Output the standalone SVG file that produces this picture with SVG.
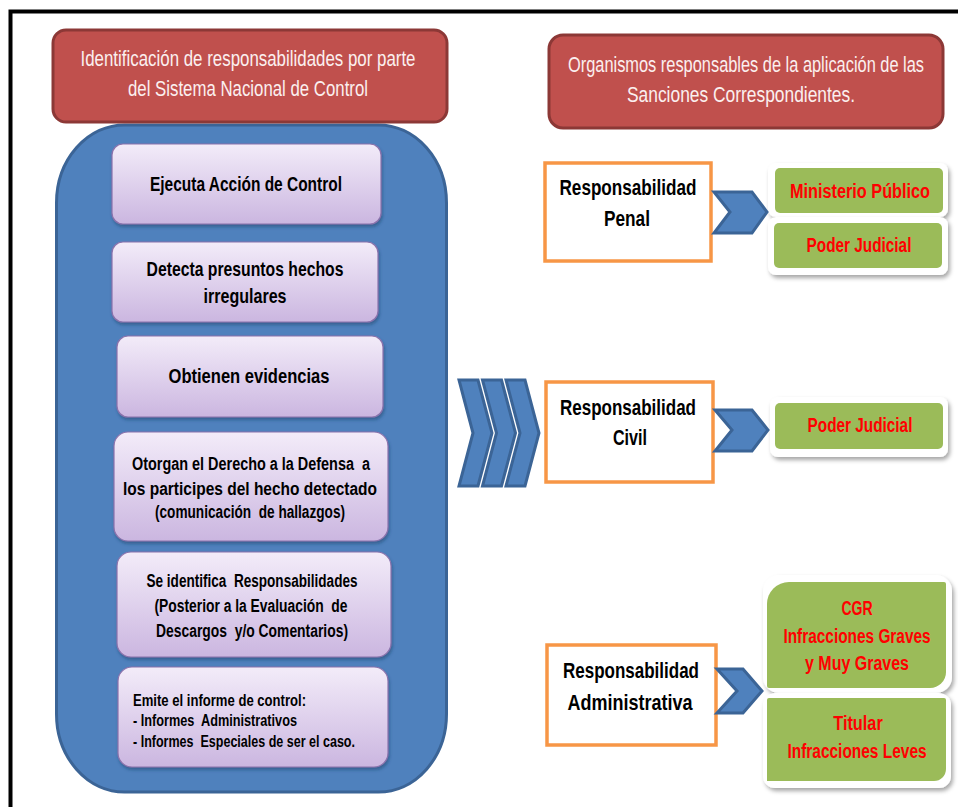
<svg xmlns="http://www.w3.org/2000/svg" width="958" height="807" viewBox="0 0 958 807">
  <defs>
    <linearGradient id="lilac" x1="0" y1="0" x2="0" y2="1">
      <stop offset="0" stop-color="#F3ECF9"/>
      <stop offset="1" stop-color="#CBB6E0"/>
    </linearGradient>
    <filter id="shadowSoft" x="-10%" y="-10%" width="125%" height="130%">
      <feDropShadow dx="1" dy="2.5" stdDeviation="1.5" flood-color="#1F3A5F" flood-opacity="0.45"/>
    </filter>
    <filter id="shadowFrame" x="-10%" y="-10%" width="125%" height="130%">
      <feDropShadow dx="2" dy="3" stdDeviation="2" flood-color="#000" flood-opacity="0.35"/>
    </filter>
    <style>
      text { font-family: "Liberation Sans", Arial, sans-serif; white-space: pre; }
      .hdrBox { fill: #C0504D; stroke: #8C3836; stroke-width: 3; }
      .hdrTxt { font-size: 22px; fill: #FBEFEF; text-anchor: middle; }
      .step { fill: url(#lilac); stroke: #8A72AC; stroke-width: 1.2; filter: url(#shadowSoft); }
      .stepTxt { font-weight: bold; fill: #000; text-anchor: middle; }
      .big { font-size: 21px; }
      .mid { font-size: 17.5px; }
      .small { font-size: 16px; text-anchor: start; }
      .resp { fill: #FFFFFF; stroke: #F79646; stroke-width: 3.5; }
      .respTxt { font-size: 22px; font-weight: bold; fill: #000; text-anchor: middle; }
      .frame { fill: #FFFFFF; filter: url(#shadowFrame); }
      .green { fill: #9BBB59; }
      .orgTxt { font-size: 20px; font-weight: bold; fill: #FF0000; text-anchor: middle; }
      .chev { fill: #4F81BD; stroke: #3B6496; stroke-width: 3; stroke-linejoin: miter; }
    </style>
  </defs>

  <rect width="958" height="807" fill="#FFFFFF"/>

  <!-- page frame: top and left rules -->
  <path d="M10.5,807 V11.5 H958" fill="none" stroke="#000" stroke-width="4"/>

  <!-- left column: control process -->
  <g id="process-container">
    <rect x="56.5" y="125" width="390" height="667" rx="68" ry="78" fill="#4F81BD" stroke="#3B6496" stroke-width="3"/>
  </g>

  <g id="header-left">
    <rect class="hdrBox" x="53" y="30" width="394" height="92" rx="13"/>
    <text class="hdrTxt" x="248" y="66" textLength="335" lengthAdjust="spacingAndGlyphs">Identificación de responsabilidades por parte</text>
    <text class="hdrTxt" x="248" y="96" textLength="240" lengthAdjust="spacingAndGlyphs">del Sistema Nacional de Control</text>
  </g>

  <g id="header-right">
    <rect class="hdrBox" x="549" y="35" width="394" height="93" rx="14"/>
    <g transform="translate(746,72) scale(0.8,1)">
      <text class="hdrTxt" x="0" y="0" textLength="445" lengthAdjust="spacingAndGlyphs">Organismos responsables de la aplicación de las</text>
    </g>
    <g transform="translate(741,102) scale(0.8,1)">
      <text class="hdrTxt" x="0" y="0" textLength="285" lengthAdjust="spacingAndGlyphs">Sanciones Correspondientes.</text>
    </g>
  </g>

  <g id="step-1">
    <rect class="step" x="112" y="144" width="269" height="80" rx="11"/>
    <text class="stepTxt big" x="246" y="191" textLength="192" lengthAdjust="spacingAndGlyphs">Ejecuta Acción de Control</text>
  </g>

  <g id="step-2">
    <rect class="step" x="112" y="242" width="266" height="80" rx="11"/>
    <text class="stepTxt big" x="245" y="276" textLength="197" lengthAdjust="spacingAndGlyphs">Detecta presuntos hechos</text>
    <text class="stepTxt big" x="245" y="303" textLength="83" lengthAdjust="spacingAndGlyphs">irregulares</text>
  </g>

  <g id="step-3">
    <rect class="step" x="117" y="336" width="266" height="81" rx="11"/>
    <text class="stepTxt big" x="249" y="383" textLength="161" lengthAdjust="spacingAndGlyphs">Obtienen evidencias</text>
  </g>

  <g id="step-4">
    <rect class="step" x="114" y="432" width="274" height="109" rx="14"/>
    <text class="stepTxt mid" x="251" y="470" textLength="238" lengthAdjust="spacingAndGlyphs">Otorgan el Derecho a la Defensa  a</text>
    <text class="stepTxt mid" x="250" y="495" textLength="254" lengthAdjust="spacingAndGlyphs">los participes del hecho detectado</text>
    <text class="stepTxt mid" x="250" y="518" textLength="190" lengthAdjust="spacingAndGlyphs">(comunicación  de hallazgos)</text>
  </g>

  <g id="step-5">
    <rect class="step" x="117" y="552" width="274" height="105" rx="14"/>
    <text class="stepTxt mid" x="252" y="587" textLength="211" lengthAdjust="spacingAndGlyphs">Se identifica  Responsabilidades</text>
    <text class="stepTxt mid" x="251" y="612" textLength="193" lengthAdjust="spacingAndGlyphs">(Posterior a la Evaluación  de</text>
    <text class="stepTxt mid" x="252" y="637" textLength="192" lengthAdjust="spacingAndGlyphs">Descargos  y/o Comentarios)</text>
  </g>

  <g id="step-6">
    <rect class="step" x="118" y="667" width="270" height="100" rx="14"/>
    <text class="stepTxt small" x="133" y="706" textLength="173" lengthAdjust="spacingAndGlyphs">Emite el informe de control:</text>
    <text class="stepTxt small" x="133" y="726" textLength="164" lengthAdjust="spacingAndGlyphs">- Informes  Administrativos</text>
    <text class="stepTxt small" x="133" y="747" textLength="222" lengthAdjust="spacingAndGlyphs">- Informes  Especiales de ser el caso.</text>
  </g>

  <!-- responsibility types -->
  <g id="resp-penal">
    <rect class="resp" x="545" y="163" width="166" height="98"/>
    <text class="respTxt" x="628" y="195" textLength="137" lengthAdjust="spacingAndGlyphs">Responsabilidad</text>
    <text class="respTxt" x="627" y="226" textLength="46" lengthAdjust="spacingAndGlyphs">Penal</text>
  </g>

  <g id="resp-civil">
    <rect class="resp" x="546" y="382" width="167" height="100"/>
    <text class="respTxt" x="628" y="415" textLength="136" lengthAdjust="spacingAndGlyphs">Responsabilidad</text>
    <text class="respTxt" x="630" y="445" textLength="34" lengthAdjust="spacingAndGlyphs">Civil</text>
  </g>

  <g id="resp-admin">
    <rect class="resp" x="547" y="645" width="169" height="100"/>
    <text class="respTxt" x="631" y="678" textLength="136" lengthAdjust="spacingAndGlyphs">Responsabilidad</text>
    <text class="respTxt" x="630" y="710" textLength="125" lengthAdjust="spacingAndGlyphs">Administrativa</text>
  </g>

  <!-- sanctioning bodies (labels narrowed with a horizontal scale) -->
  <g id="org-ministerio">
    <rect class="frame" x="768" y="163" width="180" height="54" rx="8"/>
    <rect class="green" x="775" y="168" width="168" height="45" rx="5"/>
    <g transform="translate(860,198) scale(0.8,1)">
      <text class="orgTxt" x="0" y="0" textLength="175" lengthAdjust="spacingAndGlyphs">Ministerio Público</text>
    </g>
  </g>

  <g id="org-judicial-penal">
    <rect class="frame" x="768" y="217" width="180" height="58" rx="8"/>
    <rect class="green" x="774" y="223" width="168" height="45" rx="5"/>
    <g transform="translate(859,252) scale(0.8,1)">
      <text class="orgTxt" x="0" y="0" textLength="131" lengthAdjust="spacingAndGlyphs">Poder Judicial</text>
    </g>
  </g>

  <g id="org-judicial-civil">
    <rect class="frame" x="770" y="397" width="178" height="60" rx="8"/>
    <rect class="green" x="775" y="403" width="168" height="46" rx="5"/>
    <g transform="translate(860,432) scale(0.8,1)">
      <text class="orgTxt" x="0" y="0" textLength="131" lengthAdjust="spacingAndGlyphs">Poder Judicial</text>
    </g>
  </g>

  <g id="org-cgr">
    <rect class="frame" x="763" y="575" width="189" height="118" rx="16"/>
    <path class="green" d="M767,604 A22,22 0 0 1 789,582 H944 Q946,582 946,584 V672 A16,16 0 0 1 930,688 H769 Q767,688 767,686 Z"/>
    <g transform="translate(857,615) scale(0.8,1)">
      <text class="orgTxt" x="0" y="0" textLength="39" lengthAdjust="spacingAndGlyphs">CGR</text>
    </g>
    <g transform="translate(857,643) scale(0.8,1)">
      <text class="orgTxt" x="0" y="0" textLength="184" lengthAdjust="spacingAndGlyphs">Infracciones Graves</text>
    </g>
    <g transform="translate(857,670) scale(0.8,1)">
      <text class="orgTxt" x="0" y="0" textLength="130" lengthAdjust="spacingAndGlyphs">y Muy Graves</text>
    </g>
  </g>

  <g id="org-titular">
    <rect class="frame" x="763" y="693" width="188" height="95" rx="12"/>
    <path class="green" d="M767,700 Q767,698 769,698 H944 Q946,698 946,700 V769 A12,12 0 0 1 934,781 H767 Z"/>
    <g transform="translate(858,730) scale(0.8,1)">
      <text class="orgTxt" x="0" y="0" textLength="62" lengthAdjust="spacingAndGlyphs">Titular</text>
    </g>
    <g transform="translate(857,758) scale(0.8,1)">
      <text class="orgTxt" x="0" y="0" textLength="174" lengthAdjust="spacingAndGlyphs">Infracciones Leves</text>
    </g>
  </g>

  <!-- connectors: chevron arrows -->
  <g id="connectors">
    <polygon class="chev" points="459,380 478,380 492,433 478,486 459,486 473,433"/>
    <polygon class="chev" points="482.5,380 501.5,380 515.5,433 501.5,486 482.5,486 496.5,433"/>
    <polygon class="chev" points="506,380 525,380 539,433 525,486 506,486 520,433"/>
    <polygon class="chev" points="714,192 752,192 767,212 752,233 714,233 730,212"/>
    <polygon class="chev" points="715,410 752,410 768,430 752,451 715,451 732,430"/>
    <polygon class="chev" points="717,669 743,669 762,691 743,713 717,713 737,691"/>
  </g>
</svg>
